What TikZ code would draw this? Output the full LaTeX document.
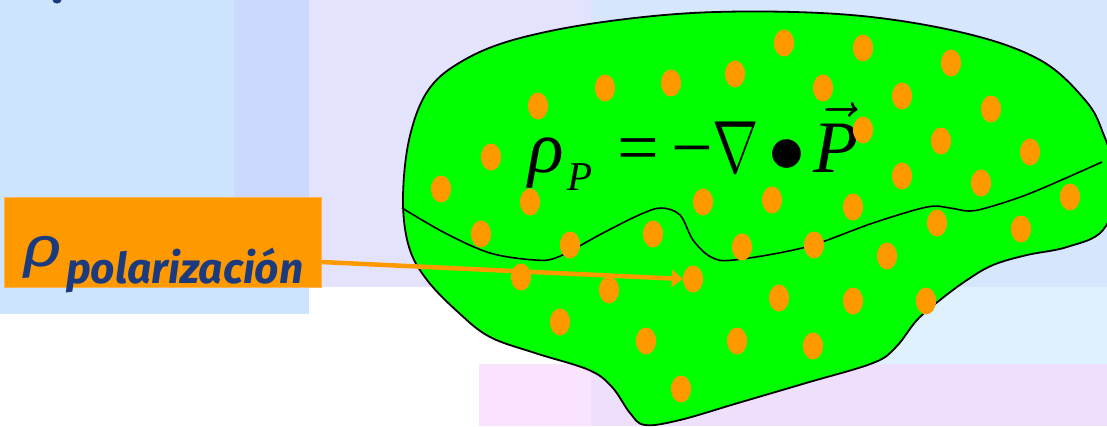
\RequirePackage{fix-cm}
\documentclass[tikz,border=0pt]{standalone}
\usepackage{fontspec}
\newfontfamily\tms{Liberation Serif}
\newfontfamily\lblfont{Fira Sans}
\usetikzlibrary{shapes.geometric,arrows.meta}
\definecolor{bgLeft}{HTML}{CCE5FC}
\definecolor{bgStrip}{HTML}{CCD8FC}
\definecolor{bgLav}{HTML}{E3E3FD}
\definecolor{bgRight}{HTML}{D6E6FC}
\definecolor{bgPale}{HTML}{E0F1FE}
\definecolor{bgPink}{HTML}{FAE3FC}
\definecolor{bgPinkLav}{HTML}{EEDFFC}
\definecolor{blobgreen}{HTML}{00FF00}
\definecolor{dotor}{HTML}{FF9900}
\definecolor{boxor}{HTML}{FF9900}
\definecolor{boxedge}{HTML}{FFB24D}
\definecolor{lblblue}{HTML}{1C3A7E}
\tikzset{
  dot/.style={ellipse, fill=dotor, draw=none, minimum width=20pt, minimum height=27pt, inner sep=0pt},
  blob/.style={fill=blobgreen, draw=black, line width=1.8pt},
  wave/.style={draw=black, line width=1.6pt},
  lblbox/.style={rectangle, fill=boxor, draw=boxedge, line width=0.8pt, minimum width=317pt, minimum height=90pt, inner sep=0pt},
  lbltext/.style={text=lblblue, font=\lblfont\bfseries\itshape, inner sep=0pt},
  formula/.style={text=black, inner sep=0pt, font=\fontsize{74}{80}\selectfont},
  arr/.style={draw=dotor, line width=4.5pt, -{Triangle[length=11pt,width=17pt]}},
}
\begin{document}
\begin{tikzpicture}[x=1pt,y=-1pt]
\useasboundingbox (0,0) rectangle (1107,426);
\begin{scope}
\clip (0,0) rectangle (1107,426);
% background panels
\fill[bgLeft] (0,0) rectangle (309,314);
\fill[bgStrip] (234,0) rectangle (309,287);
\fill[bgLav] (309,0) rectangle (591,287);
\fill[bgRight] (591,0) rectangle (1107,287);
\fill[bgPale] (591,287) rectangle (1107,364);
\fill[bgPink] (479,364) rectangle (591,426);
\fill[bgPinkLav] (591,364) rectangle (1107,426);
\fill[lblblue] (57,0) ellipse (4.5pt and 3.5pt);
% dielectric body
\draw[blob] plot[smooth cycle, tension=0.6] coordinates {
  (403,200) (409,140) (427,92) (459,63) (513,40) (603,22) (716,12) (851,15)
  (964,33) (1040,60) (1085,100) (1103,133) (1118,185) (1103,230) (1067,247)
  (1027,255) (993,265) (967,280) (940,300) (917,320) (896,347) (873,363)
  (806,383) (738,403) (680,420) (645,425) (630,413) (612,387) (589,370)
  (535,353) (490,337) (459,313) (427,280) (409,247)};
\draw[wave] plot[smooth, tension=0.55] coordinates {
  (402,208) (445,233) (490,253) (535,260) (558,257) (603,233) (639,215)
  (661,208) (680,215) (693,240) (711,257) (734,260) (806,247) (873,223)
  (927,207) (950,208) (968,211) (986,208) (1031,193) (1102,162)};
\end{scope}
% formula
\node[formula, anchor=base west] (eq) at (528,172) {{\tms\itshape ρ}\kern4pt\raisebox{-18pt}{\fontsize{41}{41}\selectfont\tms\itshape P}\kern25pt{\tms =}\kern12pt{\tms −}\kern-1pt\scalebox{0.75}[1]{$\nabla$}\kern10pt$\bullet$\kern8pt$\vec{\hbox{\tms\itshape P}}$};
% charges
\foreach \x/\y [count=\i] in {
  784/43, 863/48, 951/63, 605/88, 671/83, 735/74, 823/88, 902/96, 991/109,
  538/106, 863/130, 941/141, 1030/152, 491/157, 902/176, 981/183, 1070/197,
  441/189, 530/202, 703/202, 772/200, 853/207, 481/234, 570/245, 653/234,
  742/247, 814/245, 937/223, 1021/229, 887/256, 521/277, 609/290, 693/279,
  779/298, 853/301, 926/301, 560/322, 646/341, 737/341, 813/346, 681/389}
  \node[dot] (d\i) at (\x,\y) {};
% label
\node[lblbox] (lbl) at (162.5,242) {};
\node[lbltext, anchor=base west] (lbltxt) at (21,266) {\scalebox{1.3}[1]{\fontsize{56}{56}\selectfont\mdseries ρ}\kern3pt\raisebox{-17pt}{\fontsize{42.5}{42.5}\selectfont polarización}};
\draw[arr] ([yshift=-20pt]lbl.east) -- (d33.west);
\end{tikzpicture}
\end{document}
